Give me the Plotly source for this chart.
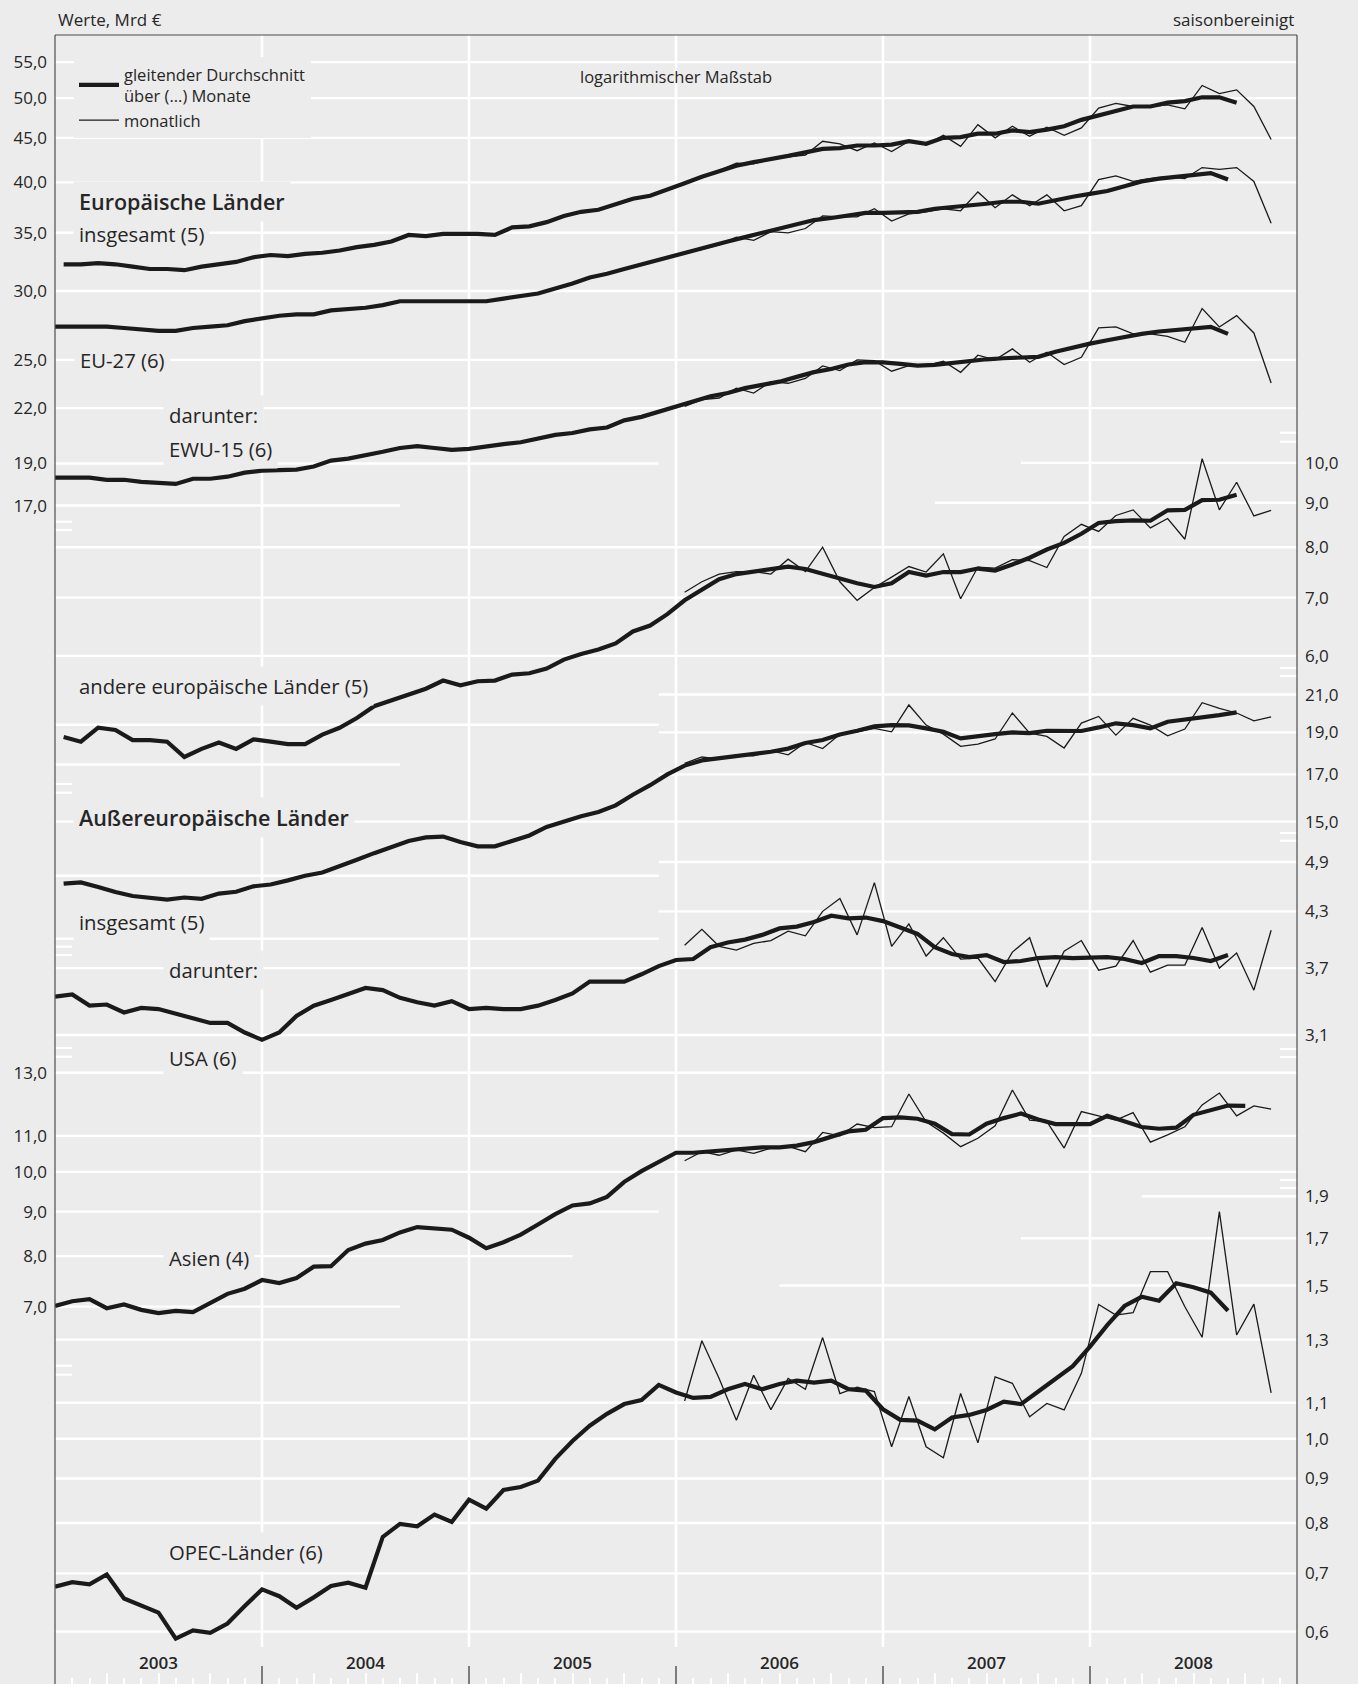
import numpy as np
import plotly.graph_objects as go

# ---------------------------------------------------------------------------
# Data (Mrd €, saisonbereinigt). Moving averages start January 2003,
# monthly values cover January 2006 – November 2008.
# ---------------------------------------------------------------------------
YEARS = ["2003", "2004", "2005", "2006", "2007", "2008"]

EUROPA_MA = [32.2, 32.2, 32.3, 32.2, 32.0, 31.8, 31.8, 31.7, 32.0, 32.2, 32.4, 32.8, 33.0, 32.9, 33.1, 33.2,
             33.4, 33.7, 33.9, 34.2, 34.8, 34.7, 34.9, 34.9, 34.9, 34.8,
             35.5, 35.6, 36.0, 36.6, 37.0, 37.2, 37.8, 38.3, 38.6, 39.2, 39.9, 40.6, 41.2, 41.8, 42.2, 42.5,
             42.9, 43.3, 43.7, 43.8,
             44.1, 44.1, 44.2, 44.6, 44.3, 45.0, 45.1, 45.5, 45.5, 45.9, 45.7, 46.0, 46.4, 47.2, 47.8, 48.4,
             48.9, 48.9, 49.4, 49.6, 50.1, 50.1, 49.4]
EUROPA_M = [39.9, 40.5, 41.3, 42.1, 42.0, 42.6, 42.8, 43.0, 44.6, 44.3,
            43.5, 44.4, 43.4, 44.6, 44.2, 45.3, 44.0, 46.6, 45.0, 46.4, 45.2, 46.3, 45.3, 46.2, 48.7, 49.3,
            48.9, 48.9, 49.1, 48.6, 51.7, 50.6, 51.1, 48.9, 44.8]

EU27_MA = [27.3, 27.3, 27.3, 27.3, 27.2, 27.1, 27.0, 27.0, 27.2, 27.3, 27.4, 27.7, 27.9, 28.1, 28.2, 28.2,
           28.5, 28.6, 28.7, 28.9, 29.2, 29.2, 29.2, 29.2, 29.2, 29.2,
           29.4, 29.6, 29.8, 30.2, 30.6, 31.1, 31.4, 31.8, 32.2, 32.6, 33.0, 33.4, 33.8, 34.2, 34.6, 35.0,
           35.4, 35.8, 36.2, 36.4,
           36.6, 36.9, 36.9, 37.0, 37.0, 37.3, 37.5, 37.7, 37.8, 38.0, 38.0, 37.8, 38.2, 38.5, 38.8, 39.1,
           39.6, 40.1, 40.4, 40.6, 40.7, 41.0, 40.3]
EU27_M = [33.2, 33.5, 33.9, 34.6, 34.3, 35.1, 35.0, 35.4, 36.6, 36.5,
          36.5, 37.3, 36.1, 36.8, 37.0, 37.3, 37.1, 39.0, 37.4, 38.7, 37.6, 38.7, 37.1, 37.6, 40.3, 40.7,
          40.1, 40.4, 40.6, 40.4, 41.6, 41.4, 41.6, 40.1, 35.9]

EWU15_MA = [18.3, 18.3, 18.3, 18.2, 18.2, 18.1, 18.05, 18.0, 18.25, 18.25, 18.35, 18.55, 18.65, 18.65, 18.7,
            18.85, 19.15, 19.25, 19.4, 19.6, 19.8, 19.9, 19.8, 19.7, 19.75, 19.9,
            20.0, 20.1, 20.3, 20.5, 20.6, 20.8, 20.9, 21.3, 21.5, 21.8, 22.1, 22.4, 22.7, 22.9, 23.2, 23.4,
            23.6, 23.9, 24.2, 24.4,
            24.7, 24.85, 24.84, 24.74, 24.62, 24.67, 24.80, 24.95, 25.04, 25.11, 25.17, 25.20, 25.54, 25.83,
            26.10, 26.33, 26.59, 26.78, 26.95, 27.04, 27.14, 27.28, 26.78]
EWU15_M = [22.1, 22.5, 22.6, 23.2, 22.9, 23.6, 23.5, 23.8, 24.6, 24.3,
           25.0, 24.95, 24.26, 24.62, 24.62, 24.91, 24.19, 25.31, 25.0, 25.74, 24.84, 25.51, 24.69, 25.17,
           27.21, 27.28, 26.78, 26.78, 26.61, 26.19, 28.64, 27.28, 28.11, 26.85, 23.52]

ANDERE_MA = [4.84, 4.78, 4.96, 4.93, 4.80, 4.80, 4.78, 4.59, 4.69, 4.77, 4.69, 4.81, 4.78, 4.75, 4.75, 4.87,
             4.96, 5.09, 5.25, 5.33, 5.41, 5.50, 5.62, 5.55, 5.61, 5.62,
             5.71, 5.73, 5.80, 5.94, 6.03, 6.10, 6.20, 6.40, 6.50, 6.70, 6.95, 7.15, 7.35, 7.45, 7.50, 7.55,
             7.60, 7.55, 7.45, 7.35,
             7.27, 7.20, 7.27, 7.49, 7.42, 7.49, 7.49, 7.56, 7.52, 7.64, 7.78, 7.95, 8.09, 8.29, 8.53, 8.57,
             8.59, 8.58, 8.82, 8.83, 9.06, 9.07, 9.19]
ANDERE_M = [7.1, 7.3, 7.45, 7.5, 7.5, 7.45, 7.75, 7.5, 8.0, 7.3,
            6.95, 7.19, 7.39, 7.60, 7.49, 7.86, 6.98, 7.59, 7.57, 7.74, 7.72, 7.58, 8.23, 8.50, 8.34, 8.70,
            8.83, 8.42, 8.63, 8.17, 10.11, 8.83, 9.50, 8.69, 8.82]

AUSSER_MA = [12.73, 12.77, 12.62, 12.45, 12.32, 12.26, 12.20, 12.27, 12.23, 12.40, 12.46, 12.64, 12.70, 12.84,
             13.0, 13.11, 13.32, 13.56, 13.80, 14.03, 14.25, 14.39, 14.42, 14.21, 14.05, 14.05,
             14.25, 14.46, 14.79, 15.0, 15.22, 15.39, 15.66, 16.11, 16.52, 17.0, 17.40, 17.64, 17.74, 17.84,
             17.95, 18.05, 18.20, 18.47, 18.62, 18.89,
             19.08, 19.30, 19.37, 19.35, 19.20, 19.03, 18.70, 18.83, 18.91, 19.0, 18.96, 19.08, 19.08, 19.07,
             19.25, 19.46, 19.37, 19.20, 19.54, 19.64, 19.77, 19.89, 20.03]
AUSSER_M = [17.5, 17.8, 17.7, 17.9, 17.85, 18.1, 17.9, 18.5, 18.2, 18.9,
            19.03, 19.20, 19.03, 20.43, 19.37, 18.91, 18.31, 18.42, 18.67, 20.0, 18.96, 18.80, 18.23, 19.47,
            19.82, 18.86, 19.72, 19.37, 18.83, 19.17, 20.55, 20.25, 20.0, 19.59, 19.80]

USA_MA = [3.43, 3.45, 3.35, 3.36, 3.29, 3.33, 3.32, 3.28, 3.24, 3.20, 3.20, 3.12, 3.06, 3.12, 3.26, 3.35,
          3.40, 3.45, 3.51, 3.49, 3.42, 3.38, 3.35, 3.39, 3.32, 3.33,
          3.32, 3.32, 3.35, 3.40, 3.46, 3.57, 3.57, 3.57, 3.64, 3.72, 3.78, 3.79, 3.91, 3.96, 3.99, 4.04,
          4.11, 4.13, 4.18, 4.25,
          4.22, 4.23, 4.19, 4.12, 4.05, 3.91, 3.84, 3.81, 3.83, 3.76, 3.77, 3.80, 3.81, 3.80, 3.80, 3.81,
          3.79, 3.75, 3.82, 3.82, 3.80, 3.77, 3.83]
USA_M = [3.93, 4.10, 3.92, 3.88, 3.95, 3.98, 4.08, 4.03, 4.30, 4.45,
         4.04, 4.64, 3.92, 4.16, 3.82, 4.01, 3.79, 3.80, 3.57, 3.86, 4.01, 3.52, 3.87, 3.98, 3.68, 3.72,
         3.98, 3.66, 3.73, 3.73, 4.12, 3.70, 3.85, 3.49, 4.09]

ASIEN_MA = [7.01, 7.10, 7.14, 6.97, 7.04, 6.94, 6.88, 6.92, 6.90, 7.07, 7.24, 7.34, 7.51, 7.45, 7.55, 7.78,
            7.79, 8.13, 8.27, 8.35, 8.52, 8.64, 8.60, 8.58, 8.40, 8.17,
            8.30, 8.47, 8.70, 8.94, 9.15, 9.20, 9.36, 9.74, 10.02, 10.28, 10.52, 10.52, 10.55, 10.58, 10.61,
            10.67, 10.67, 10.72, 10.82, 10.98,
            11.13, 11.18, 11.53, 11.55, 11.51, 11.36, 11.05, 11.04, 11.36, 11.53, 11.67, 11.49, 11.35, 11.35,
            11.35, 11.60, 11.42, 11.26, 11.21, 11.24, 11.63, 11.78, 11.92, 11.91]
ASIEN_M = [10.3, 10.55, 10.45, 10.6, 10.5, 10.65, 10.7, 10.55, 11.1, 11.0,
           11.35, 11.24, 11.27, 12.29, 11.42, 11.08, 10.69, 10.93, 11.30, 12.42, 11.47, 11.42, 10.65, 11.73,
           11.60, 11.47, 11.70, 10.82, 11.03, 11.27, 11.94, 12.32, 11.60, 11.91, 11.81]

OPEC_MA = [0.676, 0.684, 0.680, 0.698, 0.655, 0.643, 0.631, 0.589, 0.602, 0.598, 0.613, 0.642, 0.671, 0.659,
           0.639, 0.657, 0.677, 0.683, 0.674, 0.771, 0.798, 0.793, 0.818, 0.802, 0.851, 0.831,
           0.873, 0.880, 0.895, 0.948, 0.994, 1.035, 1.068, 1.096, 1.108, 1.153, 1.130, 1.114, 1.117, 1.140,
           1.156, 1.140, 1.156, 1.166, 1.160, 1.166,
           1.140, 1.136, 1.081, 1.051, 1.049, 1.025, 1.058, 1.065, 1.079, 1.103, 1.096, 1.133, 1.173, 1.212,
           1.276, 1.351, 1.421, 1.456, 1.441, 1.509, 1.493, 1.472, 1.403]
OPEC_M = [1.105, 1.296, 1.173, 1.050, 1.183, 1.080, 1.173, 1.140, 1.307, 1.127,
          1.146, 1.133, 0.979, 1.118, 0.979, 0.951, 1.127, 0.989, 1.178, 1.158, 1.060, 1.098, 1.079, 1.189,
          1.427, 1.387, 1.396, 1.556, 1.556, 1.418, 1.308, 1.824, 1.316, 1.428, 1.129]

# Tick labels of the individual log scales
TICKS_EUROPA = [55.0, 50.0, 45.0, 40.0, 35.0, 30.0, 25.0, 22.0, 19.0, 17.0]
TICKS_ANDERE_L = [6.0, 5.0, 4.5]
TICKS_ANDERE_R = [10.0, 9.0, 8.0, 7.0, 6.0]
TICKS_AUSSER_L = [15.0, 13.0, 11.0]
TICKS_AUSSER_R = [21.0, 19.0, 17.0, 15.0]
TICKS_USA = [4.9, 4.3, 3.7, 3.1]
TICKS_ASIEN = [13.0, 11.0, 10.0, 9.0, 8.0, 7.0]
TICKS_OPEC = [1.9, 1.7, 1.5, 1.3, 1.1, 1.0, 0.9, 0.8, 0.7, 0.6]

# ---------------------------------------------------------------------------
# Page geometry and styling
# ---------------------------------------------------------------------------
W, H = 1358, 1684
ML, MR, MT, MB = 55, 61, 35, 0
PW, PH = W - ML - MR, H - MT - MB
BG = "#ececec"
INK = "#1a1a1a"
TXT = "#262626"
FONT = "Open Sans"
N_MONTHS = 72
SPAN = 1.89605          # decades shown by every log scale (same scale factor everywhere)


def px_x(x):            # page pixel -> paper x
    return (x - ML) / PW


def px_y(y):            # page pixel -> paper y
    return (H - MB - y) / PH


def fmt(v):
    return f"{v:.1f}".replace(".", ",")


# one log axis per chart block; tops are the log10 value at the upper frame
AXES = {
    "y":  dict(top=1.7715, side="left",  ticks=TICKS_EUROPA),
    "y2": dict(top=1.4920, side="left",  ticks=TICKS_ANDERE_L),
    "y3": dict(top=1.4920, side="right", ticks=TICKS_ANDERE_R),
    "y4": dict(top=2.0806, side="left",  ticks=TICKS_AUSSER_L),
    "y5": dict(top=2.0806, side="right", ticks=TICKS_AUSSER_R),
    "y6": dict(top=1.6411, side="right", ticks=TICKS_USA),
    "y7": dict(top=2.3072, side="left",  ticks=TICKS_ASIEN),
    "y8": dict(top=1.6140, side="right", ticks=TICKS_OPEC),
}

# (moving average, window, monthly values, axis)
SERIES = [
    (EUROPA_MA, 5, EUROPA_M, "y"),
    (EU27_MA, 6, EU27_M, "y"),
    (EWU15_MA, 6, EWU15_M, "y"),
    (ANDERE_MA, 5, ANDERE_M, "y3"),
    (AUSSER_MA, 5, AUSSER_M, "y5"),
    (USA_MA, 6, USA_M, "y6"),
    (ASIEN_MA, 4, ASIEN_M, "y7"),
    (OPEC_MA, 6, OPEC_M, "y8"),
]

fig = go.Figure()
first = True
for ma, window, monthly, ax in SERIES:
    # centred moving averages: odd windows sit mid-month, even windows on month boundaries
    offset = 0.5 if window % 2 else 0.0
    x_ma = np.arange(len(ma)) + offset
    x_m = 36 + np.arange(len(monthly)) + 0.5
    fig.add_trace(go.Scatter(x=x_m, y=monthly, yaxis=ax, mode="lines",
                             line=dict(color=INK, width=1.3),
                             name="monatlich", legendrank=2, showlegend=first, hoverinfo="skip"))
    fig.add_trace(go.Scatter(x=x_ma, y=ma, yaxis=ax, mode="lines",
                             line=dict(color=INK, width=4.2, shape="linear"),
                             name="gleitender Durchschnitt<br>über (...) Monate", legendrank=1,
                             showlegend=first, hoverinfo="skip"))
    first = False

# white grid lines: (axis, value, from month, to month)
GRID = [
    ("y", 55, 0, 72), ("y", 50, 0, 72), ("y", 45, 0, 72), ("y", 40, 0, 72), ("y", 35, 0, 72),
    ("y", 30, 0, 72), ("y", 25, 0, 72), ("y", 22, 0, 72), ("y", 19, 0, 35), ("y", 17, 0, 20),
    ("y3", 10, 56, 72), ("y3", 9, 51, 72), ("y3", 8, 0, 72), ("y3", 7, 0, 72), ("y3", 6, 0, 72),
    ("y3", 5, 0, 35), ("y3", 4.5, 0, 20),
    ("y5", 21, 35, 72), ("y5", 19, 35, 72), ("y5", 17, 35, 72), ("y5", 15, 0, 72),
    ("y5", 13, 0, 35), ("y5", 11, 0, 35),
    ("y6", 4.9, 35, 72), ("y6", 4.3, 35, 72), ("y6", 3.7, 0, 72), ("y6", 3.1, 0, 72),
    ("y7", 13, 0, 72), ("y7", 11, 0, 72), ("y7", 10, 0, 72), ("y7", 9, 0, 35), ("y7", 8, 0, 30),
    ("y7", 7, 0, 20),
    ("y8", 1.9, 63, 72), ("y8", 1.7, 56, 72), ("y8", 1.5, 42, 72), ("y8", 1.3, 0, 72),
    ("y8", 1.1, 0, 72), ("y8", 1.0, 0, 72), ("y8", 0.9, 0, 72), ("y8", 0.8, 0, 72),
    ("y8", 0.7, 0, 72), ("y8", 0.6, 0, 72),
]
shapes = []
for ax, v, a, b in GRID:
    shapes.append(dict(type="line", xref="x", yref=ax, x0=a, x1=b, y0=v, y1=v,
                       line=dict(color="white", width=2.4), layer="below"))

# vertical year separators
for k in range(1, len(YEARS)):
    shapes.append(dict(type="line", xref="x", yref="paper", x0=12 * k, x1=12 * k,
                       y0=px_y(1647), y1=1, line=dict(color="white", width=2.6), layer="below"))
    shapes.append(dict(type="line", xref="x", yref="paper", x0=12 * k, x1=12 * k,
                       y0=0, y1=px_y(1666), line=dict(color="#333333", width=1.2), layer="above"))

# scale-break marks at the frame
for y in (521.7, 530, 784, 792.7, 946.7, 955, 1048, 1056.7, 1365.7, 1374.7):
    shapes.append(dict(type="line", xref="paper", yref="paper", x0=0, x1=px_x(72), y0=px_y(y), y1=px_y(y),
                       line=dict(color="white", width=2.2), layer="below"))
for y in (432.7, 441.7, 668, 676, 833, 840.7, 1049, 1057, 1180, 1188):
    shapes.append(dict(type="line", xref="paper", yref="paper", x0=px_x(1280), x1=1, y0=px_y(y), y1=px_y(y),
                       line=dict(color="white", width=2.2), layer="below"))

# frame: left, right, top
for x0, x1, y0, y1 in ((0, 0, 0, 1), (1, 1, 0, 1), (0, 1, 1, 1)):
    shapes.append(dict(type="line", xref="paper", yref="paper", x0=x0, x1=x1, y0=y0, y1=y1,
                       line=dict(color="#4d4d4d", width=1.2), layer="above"))

# text labels (left x, centre y in page pixels, text, size, weight)
LABELS = [
    (79, 202, "Europäische Länder", 21.5, 600),
    (79, 234, "insgesamt (5)", 20.3, 400),
    (80, 360, "EU-27 (6)", 20.3, 400),
    (169, 415, "darunter:", 20.3, 400),
    (169, 449, "EWU-15 (6)", 20.3, 400),
    (79, 686, "andere europäische Länder (5)", 20.3, 400),
    (79, 817, "Außereuropäische Länder", 21.5, 600),
    (79, 922, "insgesamt (5)", 20.3, 400),
    (169, 970, "darunter:", 20.3, 400),
    (169, 1058, "USA (6)", 20.3, 400),
    (169, 1258, "Asien (4)", 20.3, 400),
    (169, 1552, "OPEC-Länder (6)", 20.3, 400),
]
annotations = []
for x, y, t, s, w in LABELS:
    annotations.append(dict(xref="paper", yref="paper", x=px_x(x - 6), y=px_y(y), text=t,
                            xanchor="left", yanchor="middle", showarrow=False, bgcolor=BG, borderpad=5,
                            font=dict(family=FONT, size=s, color=TXT, weight=w)))

annotations += [
    dict(xref="paper", yref="paper", x=px_x(56), y=px_y(19), text="Werte, Mrd €", xanchor="left",
         yanchor="middle", showarrow=False, font=dict(family=FONT, size=17, color=TXT)),
    dict(xref="paper", yref="paper", x=px_x(1296), y=px_y(19), text="saisonbereinigt", xanchor="right",
         yanchor="middle", showarrow=False, font=dict(family=FONT, size=17, color=TXT)),
    dict(xref="paper", yref="paper", x=px_x(676), y=px_y(76), text="logarithmischer Maßstab",
         xanchor="center", yanchor="middle", showarrow=False, font=dict(family=FONT, size=16.5, color=TXT)),
]
for k, yr in enumerate(YEARS):
    annotations.append(dict(xref="x", yref="paper", x=12 * k + 6, y=px_y(1662), text=yr, xanchor="center",
                            yanchor="middle", showarrow=False,
                            font=dict(family=FONT, size=17, color=TXT, weight=600)))

layout = dict(
    width=W, height=H, margin=dict(l=ML, r=MR, t=MT, b=MB, pad=0),
    paper_bgcolor=BG, plot_bgcolor=BG, showlegend=True,
    font=dict(family=FONT, color=TXT),
    legend=dict(x=px_x(74), y=px_y(57), xanchor="left", yanchor="top", bgcolor=BG,
                font=dict(family=FONT, size=16.5, color=TXT), traceorder="normal",
                itemwidth=40, tracegroupgap=0, borderwidth=0),
    xaxis=dict(range=[0, N_MONTHS], showgrid=False, zeroline=False, showline=False, showticklabels=False,
               tickmode="array", tickvals=[m for m in range(3, 72, 3) if m % 12],
               ticks="inside", ticklen=11, tickwidth=2, tickcolor="white", fixedrange=True,
               minor=dict(tickmode="array", tickvals=[m for m in range(1, 72) if m % 3],
                          ticks="inside", ticklen=6, tickwidth=2, tickcolor="white")),
    shapes=shapes, annotations=annotations,
)
for name, spec in AXES.items():
    key = "yaxis" if name == "y" else "yaxis" + name[1:]
    ax = dict(type="log", range=[spec["top"] - SPAN, spec["top"]], side=spec["side"],
              tickmode="array", tickvals=spec["ticks"], ticktext=[fmt(v) for v in spec["ticks"]],
              showgrid=False, zeroline=False, showline=False, ticks="", ticklabelstandoff=7,
              tickfont=dict(family=FONT, size=17, color=TXT), automargin=False, fixedrange=True)
    if name != "y":
        ax.update(overlaying="y", anchor="x")
    layout[key] = ax

fig.update_layout(**layout)
fig.write_html("out.html")
